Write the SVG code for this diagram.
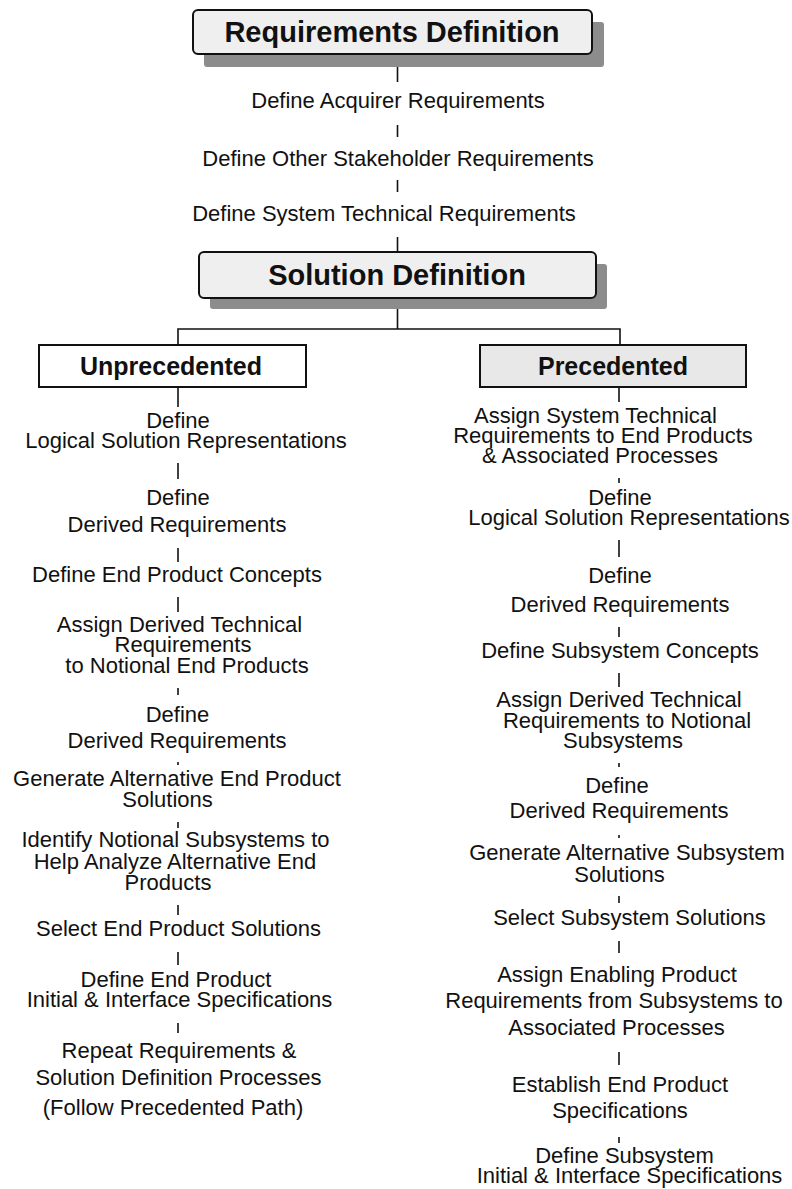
<svg xmlns="http://www.w3.org/2000/svg" width="792" height="1189" viewBox="0 0 792 1189">
<style>
.t{font-family:"Liberation Sans",Arial,sans-serif;font-size:22px;fill:#111;text-anchor:middle}
.h{font-family:"Liberation Sans",Arial,sans-serif;font-weight:bold;fill:#111;text-anchor:middle}
.big{font-size:29px}
.mid{font-size:25px}
.sh{fill:#8c8c8c}
.rb{fill:#efefef;stroke:#111;stroke-width:2}
.c line{stroke:#111;stroke-width:1.6;fill:none}
.c path{stroke:#111;stroke-width:1.6;fill:none}
</style>
<rect width="792" height="1189" fill="#fff"/>
<g class="c" id="connectors">
<line x1="397.5" y1="67" x2="397.5" y2="82"/>
<line x1="397.5" y1="125" x2="397.5" y2="137"/>
<line x1="397.5" y1="180" x2="397.5" y2="192"/>
<line x1="397.5" y1="237" x2="397.5" y2="252"/>
<line x1="397.5" y1="309" x2="397.5" y2="329"/>
<path d="M178 345 V329 H620 V345"/>
<line x1="178" y1="387" x2="178" y2="407"/>
<line x1="178" y1="463" x2="178" y2="479"/>
<line x1="178" y1="548" x2="178" y2="562"/>
<line x1="178" y1="597" x2="178" y2="612"/>
<line x1="178" y1="688" x2="178" y2="695"/>
<line x1="178" y1="762" x2="178" y2="765"/>
<line x1="178" y1="822" x2="178" y2="828"/>
<line x1="178" y1="905" x2="178" y2="915"/>
<line x1="178" y1="952" x2="178" y2="965"/>
<line x1="178" y1="1023" x2="178" y2="1033"/>
<line x1="619" y1="387" x2="619" y2="402"/>
<line x1="619" y1="478" x2="619" y2="483"/>
<line x1="619" y1="540" x2="619" y2="557"/>
<line x1="619" y1="627" x2="619" y2="637"/>
<line x1="619" y1="673" x2="619" y2="687"/>
<line x1="619" y1="763" x2="619" y2="767"/>
<line x1="619" y1="835" x2="619" y2="838"/>
<line x1="619" y1="896" x2="619" y2="903"/>
<line x1="619" y1="941" x2="619" y2="953"/>
<line x1="619" y1="1052" x2="619" y2="1065"/>
<line x1="619" y1="1137" x2="619" y2="1143"/>
</g>
<g id="requirements-definition">
<rect class="sh" x="204" y="22" width="400" height="45" rx="3"/>
<rect class="rb" x="193" y="10" width="399" height="44" rx="5"/>
<text class="h big" x="392" y="42">Requirements Definition</text>
</g>
<g id="define-acquirer"><text class="t" x="398" y="108">Define Acquirer Requirements</text></g>
<g id="define-other"><text class="t" x="398" y="166">Define Other Stakeholder Requirements</text></g>
<g id="define-system"><text class="t" x="384" y="221">Define System Technical Requirements</text></g>
<g id="solution-definition">
<rect class="sh" x="210" y="264" width="397" height="45" rx="3"/>
<rect class="rb" x="199" y="252" width="397" height="46" rx="5"/>
<text class="h big" x="397" y="285">Solution Definition</text>
</g>
<g id="unprecedented">
<rect x="39" y="345" width="267" height="42" fill="#fff" stroke="#111" stroke-width="2"/>
<text class="h mid" x="171" y="375">Unprecedented</text>
</g>
<g id="precedented">
<rect x="480" y="345" width="266" height="42" fill="#e8e8e8" stroke="#111" stroke-width="2"/>
<text class="h mid" x="613" y="375">Precedented</text>
</g>
<g id="u1"><text class="t" x="178" y="428">Define</text><text class="t" x="186" y="448">Logical Solution Representations</text></g>
<g id="u2"><text class="t" x="178" y="505">Define</text><text class="t" x="177" y="532">Derived Requirements</text></g>
<g id="u3"><text class="t" x="177" y="582">Define End Product Concepts</text></g>
<g id="u4"><text class="t" x="179.5" y="632">Assign Derived Technical</text><text class="t" x="183" y="652">Requirements</text><text class="t" x="187" y="673">to Notional End Products</text></g>
<g id="u5"><text class="t" x="177.5" y="722">Define</text><text class="t" x="177" y="748">Derived Requirements</text></g>
<g id="u6"><text class="t" x="177" y="786">Generate Alternative End Product</text><text class="t" x="167.5" y="807">Solutions</text></g>
<g id="u7"><text class="t" x="175.5" y="847">Identify Notional Subsystems to</text><text class="t" x="175" y="869">Help Analyze Alternative End</text><text class="t" x="168" y="890">Products</text></g>
<g id="u8"><text class="t" x="178.5" y="936">Select End Product Solutions</text></g>
<g id="u9"><text class="t" x="176" y="987">Define End Product</text><text class="t" x="179.5" y="1007">Initial &amp; Interface Specifications</text></g>
<g id="u10"><text class="t" x="179" y="1058">Repeat Requirements &amp;</text><text class="t" x="178.5" y="1085">Solution Definition Processes</text><text class="t" x="173" y="1115">(Follow Precedented Path)</text></g>
<g id="p1"><text class="t" x="595.5" y="423">Assign System Technical</text><text class="t" x="603" y="443">Requirements to End Products</text><text class="t" x="600" y="463">&amp; Associated Processes</text></g>
<g id="p2"><text class="t" x="620" y="505">Define</text><text class="t" x="629" y="525">Logical Solution Representations</text></g>
<g id="p3"><text class="t" x="620" y="583">Define</text><text class="t" x="620" y="612">Derived Requirements</text></g>
<g id="p4"><text class="t" x="620" y="658">Define Subsystem Concepts</text></g>
<g id="p5"><text class="t" x="619" y="707">Assign Derived Technical</text><text class="t" x="627" y="728">Requirements to Notional</text><text class="t" x="623" y="748">Subsystems</text></g>
<g id="p6"><text class="t" x="617" y="793">Define</text><text class="t" x="619" y="818">Derived Requirements</text></g>
<g id="p7"><text class="t" x="627" y="860">Generate Alternative Subsystem</text><text class="t" x="619.5" y="882">Solutions</text></g>
<g id="p8"><text class="t" x="629.5" y="925">Select Subsystem Solutions</text></g>
<g id="p9"><text class="t" x="617" y="982">Assign Enabling Product</text><text class="t" x="614" y="1008">Requirements from Subsystems to</text><text class="t" x="616.5" y="1035">Associated Processes</text></g>
<g id="p10"><text class="t" x="620" y="1092">Establish End Product</text><text class="t" x="620" y="1118">Specifications</text></g>
<g id="p11"><text class="t" x="624.5" y="1163">Define Subsystem</text><text class="t" x="629.5" y="1183">Initial &amp; Interface Specifications</text></g>
</svg>
